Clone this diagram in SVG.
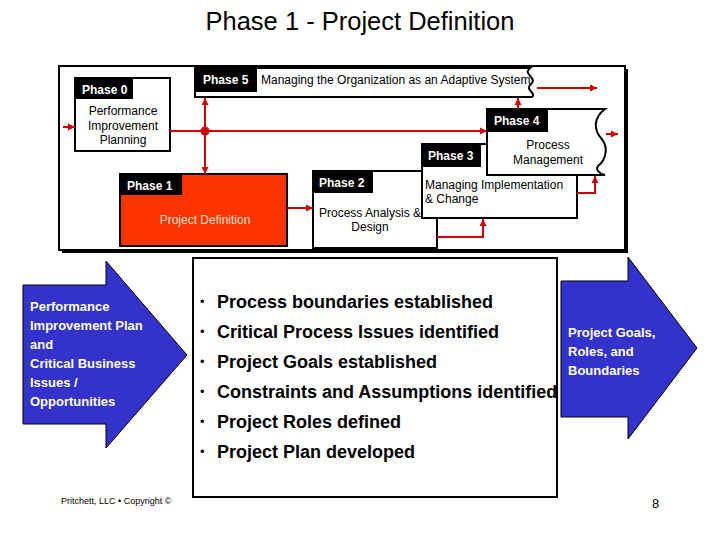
<svg xmlns="http://www.w3.org/2000/svg" width="720" height="540" viewBox="0 0 720 540">
<defs>
<style>
text{font-family:"Liberation Sans",Arial,sans-serif;}
.box{fill:#fff;stroke:#000;stroke-width:2;}
.lab{fill:#000;}
.lt{fill:#fff;font-weight:bold;font-size:12px;}
.t{fill:#000;font-size:12px;}
.con{fill:none;stroke:#d40000;stroke-width:2;}
.blue{fill:#3333cc;stroke:#000;stroke-width:1;}
.bt{fill:#fff;font-weight:bold;font-size:13px;}
.bul{fill:#000;font-weight:bold;font-size:18px;}
.dot{fill:#000;font-size:13px;}
</style>
<marker id="ah" markerUnits="userSpaceOnUse" markerWidth="8" markerHeight="8" refX="7" refY="4" orient="auto">
<path d="M0,0.5 L7,4 L0,7.5 Z" fill="#d40000"/>
</marker>
</defs>
<rect width="720" height="540" fill="#fff"/>
<text x="360" y="30" text-anchor="middle" font-size="25.5" fill="#000">Phase 1 - Project Definition</text>

<g id="frame">
<rect x="62" y="69" width="566" height="184" fill="#000"/>
<rect x="59" y="66" width="566" height="184" class="box"/>
</g>

<g id="phase5">
<path d="M195,68 L530,68 C522,74 538,78 531,84 C524,90 537,93 532,97 L195,97 Z" class="box"/>
<rect x="196" y="69" width="61" height="23" class="lab"/>
<text x="203" y="84" class="lt">Phase 5</text>
<text x="261" y="84" class="t">Managing the Organization as an Adaptive System</text>
</g>

<g id="phase0">
<rect x="75" y="78" width="95" height="73" class="box"/>
<rect x="76" y="79" width="57" height="20" class="lab"/>
<text x="82" y="94" class="lt">Phase 0</text>
<text x="123" y="115" class="t" text-anchor="middle">Performance</text>
<text x="123" y="130" class="t" text-anchor="middle">Improvement</text>
<text x="123" y="144" class="t" text-anchor="middle">Planning</text>
</g>

<g id="phase1">
<rect x="120" y="174" width="167" height="72" fill="#ff3300" stroke="#000" stroke-width="2"/>
<rect x="121" y="175" width="61" height="20" class="lab"/>
<text x="127" y="190" class="lt">Phase 1</text>
<text x="205" y="224" font-size="12" fill="#ffe4cc" text-anchor="middle">Project Definition</text>
</g>

<g id="phase2">
<rect x="313" y="171" width="124" height="77" class="box"/>
<rect x="314" y="172" width="59" height="21" class="lab"/>
<text x="319" y="187" class="lt">Phase 2</text>
<text x="319" y="217" class="t">Process Analysis &amp;</text>
<text x="370" y="231" class="t" text-anchor="middle">Design</text>
</g>

<g id="phase3">
<rect x="422" y="144" width="155" height="74" class="box"/>
<rect x="423" y="145" width="58" height="22" class="lab"/>
<text x="428" y="160" class="lt">Phase 3</text>
<text x="425" y="189" class="t">Managing Implementation</text>
<text x="425" y="203" class="t">&amp; Change</text>
</g>

<g id="phase4">
<path d="M487,109 L605,109 C593,118 594,130 601,138 C609,147 606,160 598,166 C595,170 600,174 605,175 L487,175 Z" class="box"/>
<rect x="488" y="110" width="60" height="22" class="lab"/>
<text x="494" y="125" class="lt">Phase 4</text>
<text x="548" y="149" class="t" text-anchor="middle">Process</text>
<text x="548" y="164" class="t" text-anchor="middle">Management</text>
</g>

<g id="connectors">
<path d="M63,127 L75,127" class="con" marker-end="url(#ah)"/>
<path d="M170,131 L487,131" class="con" marker-end="url(#ah)"/>
<path d="M205,131 L205,98" class="con" marker-end="url(#ah)"/>
<path d="M205,131 L205,174" class="con" marker-end="url(#ah)"/>
<circle cx="205" cy="131" r="4.5" fill="#d40000"/>
<path d="M287,208 L313,208" class="con" marker-end="url(#ah)"/>
<path d="M437,237 L483,237 L483,219" class="con" marker-end="url(#ah)"/>
<path d="M577,193 L595,193 L595,176" class="con" marker-end="url(#ah)"/>
<path d="M518,109 L518,98" class="con" marker-end="url(#ah)"/>
<path d="M537,88 L597,88" class="con" marker-end="url(#ah)"/>
<path d="M606,134 L618,134" class="con" marker-end="url(#ah)"/>
</g>

<g id="input-arrow">
<polygon points="23,285 106,285 106,261 187,355 106,448 106,424 23,424" class="blue"/>
<text class="bt" x="30" y="311">Performance</text>
<text class="bt" x="30" y="330">Improvement Plan</text>
<text class="bt" x="30" y="349">and</text>
<text class="bt" x="30" y="368">Critical Business</text>
<text class="bt" x="30" y="387">Issues /</text>
<text class="bt" x="30" y="406">Opportunities</text>
</g>

<g id="deliverables">
<rect x="193" y="258" width="364" height="239" class="box"/>
<text class="dot" x="200" y="306">•</text><text class="bul" x="217" y="308">Process boundaries established</text>
<text class="dot" x="200" y="336">•</text><text class="bul" x="217" y="338">Critical Process Issues identified</text>
<text class="dot" x="200" y="366">•</text><text class="bul" x="217" y="368">Project Goals established</text>
<text class="dot" x="200" y="396">•</text><text class="bul" x="217" y="398">Constraints and Assumptions identified</text>
<text class="dot" x="200" y="426">•</text><text class="bul" x="217" y="428">Project Roles defined</text>
<text class="dot" x="200" y="456">•</text><text class="bul" x="217" y="458">Project Plan developed</text>
</g>

<g id="output-arrow">
<polygon points="561,281 628,281 628,257 697,348 628,439 628,417 561,417" class="blue"/>
<text class="bt" x="568" y="337">Project Goals,</text>
<text class="bt" x="568" y="356">Roles, and</text>
<text class="bt" x="568" y="375">Boundaries</text>
</g>

<text x="61" y="504" font-size="9" fill="#000">Pritchett, LLC • Copyright ©</text>
<text x="652" y="508" font-size="13" fill="#000">8</text>
</svg>
